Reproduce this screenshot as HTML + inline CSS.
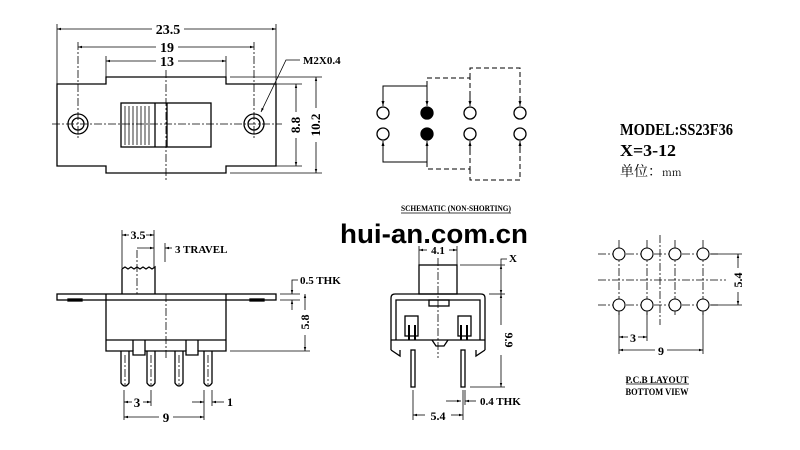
<!DOCTYPE html>
<html><head><meta charset="utf-8"><style>
html,body{margin:0;padding:0;background:#fff}
svg{display:block}
text{font-family:"Liberation Sans","Noto Sans CJK SC",sans-serif}
.d{font-family:"Liberation Serif","Noto Serif CJK SC",serif;font-weight:bold}
</style></head><body>
<svg width="800" height="450" viewBox="0 0 800 450" xmlns="http://www.w3.org/2000/svg">
<defs>
<marker id="a" viewBox="0 0 10 10" refX="10" refY="5" markerWidth="7" markerHeight="5" orient="auto-start-reverse"><path d="M0,2 L10,5 L0,8z" fill="#000"/></marker>
</defs>
<g fill="none" stroke="#000" stroke-width="1.3">
<!-- TOP VIEW -->
<path d="M57,84 H106 V77 H226 V84 H276 V166 H226 V173 H106 V166 H57 Z"/>
<circle cx="78" cy="124" r="10"/><circle cx="78" cy="124" r="6"/>
<circle cx="254" cy="124" r="10"/><circle cx="254" cy="124" r="6"/>
<rect x="121" y="103" width="90" height="44"/>
<line x1="155" y1="103" x2="155" y2="147"/>
<line x1="167" y1="103" x2="167" y2="147"/>
<g stroke-width="0.8"><line x1="125" y1="106" x2="125" y2="145"/><line x1="129" y1="106" x2="129" y2="145"/><line x1="133" y1="106" x2="133" y2="145"/><line x1="137" y1="106" x2="137" y2="145"/><line x1="141" y1="106" x2="141" y2="145"/><line x1="145" y1="106" x2="145" y2="145"/><line x1="149" y1="106" x2="149" y2="145"/></g>
<g stroke-width="0.8" stroke-dasharray="8,2,2,2">
<line x1="52" y1="124" x2="282" y2="124"/><line x1="166" y1="70" x2="166" y2="180"/>
<line x1="78" y1="42" x2="78" y2="138"/><line x1="254" y1="42" x2="254" y2="138"/>
</g>
<g stroke-width="0.8">
<line x1="57" y1="24" x2="57" y2="84"/><line x1="276" y1="24" x2="276" y2="84"/>
<line x1="106" y1="56" x2="106" y2="77"/><line x1="226" y1="56" x2="226" y2="77"/>
<line x1="57" y1="29" x2="152" y2="29" marker-start="url(#a)"/><line x1="184" y1="29" x2="276" y2="29" marker-end="url(#a)"/>
<line x1="78" y1="47" x2="156" y2="47" marker-start="url(#a)"/><line x1="178" y1="47" x2="254" y2="47" marker-end="url(#a)"/>
<line x1="106" y1="61" x2="156" y2="61" marker-start="url(#a)"/><line x1="178" y1="61" x2="226" y2="61" marker-end="url(#a)"/>
<polyline points="300,60 286,60 261,112" marker-end="url(#a)"/>
<line x1="230" y1="84" x2="302" y2="84"/><line x1="230" y1="166" x2="302" y2="166"/>
<line x1="230" y1="77" x2="322" y2="77"/><line x1="230" y1="173" x2="322" y2="173"/>
<line x1="296" y1="84" x2="296" y2="112" marker-start="url(#a)"/><line x1="296" y1="138" x2="296" y2="166" marker-end="url(#a)"/>
<line x1="316" y1="77" x2="316" y2="108" marker-start="url(#a)"/><line x1="316" y1="142" x2="316" y2="173" marker-end="url(#a)"/>
</g>
<!-- SCHEMATIC -->
<polyline points="383,106 383,86 427,86 427,106" stroke-width="1"/>
<polyline points="383,141 383,162 427,162 427,141" stroke-width="1"/>
<g stroke-width="1" stroke-dasharray="5,3">
<polyline points="427,86 427,78 470,78 470,106"/><polyline points="427,162 427,169 470,169 470,141"/>
<polyline points="470,78 470,68 520,68 520,106"/><polyline points="470,169 470,180 520,180 520,141"/>
</g>
<g stroke-width="1">
<line x1="383" y1="96" x2="383" y2="106" marker-end="url(#a)"/><line x1="427" y1="96" x2="427" y2="106" marker-end="url(#a)"/>
<line x1="470" y1="96" x2="470" y2="106" marker-end="url(#a)"/><line x1="520" y1="96" x2="520" y2="106" marker-end="url(#a)"/>
<line x1="383" y1="152" x2="383" y2="141" marker-end="url(#a)"/><line x1="427" y1="152" x2="427" y2="141" marker-end="url(#a)"/>
<line x1="470" y1="152" x2="470" y2="141" marker-end="url(#a)"/><line x1="520" y1="152" x2="520" y2="141" marker-end="url(#a)"/>
</g>
<circle cx="383" cy="113" r="6" fill="#fff"/><circle cx="427" cy="113" r="6" fill="#000"/><circle cx="470" cy="113" r="6" fill="#fff"/><circle cx="520" cy="113" r="6" fill="#fff"/>
<circle cx="383" cy="134" r="6" fill="#fff"/><circle cx="427" cy="134" r="6" fill="#000"/><circle cx="470" cy="134" r="6" fill="#fff"/><circle cx="520" cy="134" r="6" fill="#fff"/>
<line x1="401" y1="213" x2="511" y2="213" stroke-width="0.8"/>
<!-- SIDE VIEW -->
<rect x="57" y="294" width="219" height="6"/>
<rect x="68" y="299" width="14" height="2"/><rect x="250" y="299" width="14" height="2"/>
<path d="M106,294 V351 H133 V355 H145 V351 H186 V355 H198 V351 H226 V294"/>
<line x1="106" y1="340" x2="226" y2="340"/>
<line x1="133" y1="340" x2="133" y2="351"/><line x1="145" y1="340" x2="145" y2="351"/>
<line x1="186" y1="340" x2="186" y2="351"/><line x1="198" y1="340" x2="198" y2="351"/>
<path d="M122,294 V269 l3,-2 3,2 3,-2 3,2 3,-2 3,2 3,-2 3,2 3,-2 3,2 3,-2 V294"/>
<path d="M121,351 V383 q4,6 8,0 V351"/><path d="M147,351 V383 q4,6 8,0 V351"/>
<path d="M175,351 V383 q4,6 8,0 V351"/><path d="M204,351 V383 q4,6 8,0 V351"/>
<g stroke-width="0.8" stroke-dasharray="8,2,2,2">
<line x1="137" y1="250" x2="137" y2="294"/><line x1="166" y1="294" x2="166" y2="360"/>
<line x1="125" y1="355" x2="125" y2="385"/><line x1="151" y1="355" x2="151" y2="385"/><line x1="179" y1="355" x2="179" y2="385"/><line x1="208" y1="355" x2="208" y2="385"/>
</g>
<g stroke-width="0.8">
<line x1="122" y1="230" x2="122" y2="268"/><line x1="154" y1="230" x2="154" y2="268"/>
<line x1="122" y1="235" x2="129" y2="235" marker-start="url(#a)"/><line x1="146" y1="235" x2="154" y2="235" marker-end="url(#a)"/>
<line x1="137" y1="248" x2="154" y2="248" marker-end="url(#a)"/><line x1="165" y1="248" x2="172" y2="248" marker-start="url(#a)"/>
<line x1="165" y1="243" x2="165" y2="262"/>
<line x1="280" y1="294" x2="300" y2="294"/><line x1="280" y1="300" x2="300" y2="300"/>
<polyline points="298,280 292,280 292,294" marker-end="url(#a)"/><line x1="292" y1="310" x2="292" y2="300" marker-end="url(#a)"/>
<line x1="230" y1="351" x2="310" y2="351"/>
<line x1="305" y1="294" x2="305" y2="310" marker-start="url(#a)"/><line x1="305" y1="335" x2="305" y2="351" marker-end="url(#a)"/>
<line x1="124" y1="390" x2="124" y2="420"/><line x1="151" y1="390" x2="151" y2="406"/>
<line x1="204" y1="390" x2="204" y2="420"/><line x1="212" y1="390" x2="212" y2="406"/>
<line x1="124" y1="402" x2="132" y2="402" marker-start="url(#a)"/><line x1="143" y1="402" x2="151" y2="402" marker-end="url(#a)"/>
<line x1="192" y1="402" x2="204" y2="402" marker-end="url(#a)"/><line x1="224" y1="402" x2="212" y2="402" marker-end="url(#a)"/>
<line x1="124" y1="417" x2="159" y2="417" marker-start="url(#a)"/><line x1="173" y1="417" x2="204" y2="417" marker-end="url(#a)"/>
</g>
<!-- FRONT VIEW -->
<rect x="419" y="265" width="38" height="29"/>
<path d="M391,350 V298 q0,-4 4,-4 H481 q4,0 4,4 V350"/>
<path d="M396,340 V300 H480 V340"/>
<rect x="429" y="300" width="20" height="6"/>
<line x1="391" y1="340" x2="485" y2="340"/>
<path d="M391,350 L400,356 V350 M485,350 L476,356 V350"/>
<rect x="405" y="316" width="13" height="20"/><rect x="458" y="316" width="13" height="20"/>
<path d="M409,325 V340 M415,325 V340 M461,325 V340 M467,325 V340" stroke-width="2"/>
<path d="M432,340 l4,6 h8 l4,-6"/>
<rect x="411" y="350" width="4" height="37"/><rect x="461" y="350" width="4" height="37"/>
<g stroke-width="0.8" stroke-dasharray="8,2,2,2"><line x1="438" y1="258" x2="438" y2="358"/></g>
<g stroke-width="0.8">
<line x1="419" y1="246" x2="419" y2="265"/><line x1="457" y1="246" x2="457" y2="265"/>
<line x1="419" y1="250" x2="427" y2="250" marker-start="url(#a)"/><line x1="449" y1="250" x2="457" y2="250" marker-end="url(#a)"/>
<polyline points="507,259 501,259 501,265"/>
<line x1="460" y1="265" x2="505" y2="265"/><line x1="489" y1="294" x2="505" y2="294"/><line x1="470" y1="387" x2="505" y2="387"/>
<line x1="501" y1="265" x2="501" y2="294" marker-start="url(#a)" marker-end="url(#a)"/>
<line x1="501" y1="294" x2="501" y2="325" marker-start="url(#a)"/><line x1="501" y1="355" x2="501" y2="387" marker-end="url(#a)"/>
<line x1="413" y1="390" x2="413" y2="420"/><line x1="463" y1="390" x2="463" y2="420"/><line x1="465" y1="390" x2="465" y2="405"/>
<line x1="413" y1="415" x2="425" y2="415" marker-start="url(#a)"/><line x1="451" y1="415" x2="463" y2="415" marker-end="url(#a)"/>
<line x1="446" y1="401" x2="461" y2="401" marker-end="url(#a)"/><line x1="476" y1="401" x2="465" y2="401" marker-end="url(#a)"/>
</g>
<!-- PCB LAYOUT -->
<g stroke-width="0.8" stroke-dasharray="8,2,2,2">
<line x1="598" y1="254" x2="720" y2="254"/><line x1="598" y1="305" x2="720" y2="305"/>
<line x1="598" y1="280" x2="726" y2="280"/>
<line x1="619" y1="240" x2="619" y2="315"/><line x1="647" y1="240" x2="647" y2="315"/><line x1="675" y1="240" x2="675" y2="315"/><line x1="703" y1="240" x2="703" y2="315"/>
<line x1="660" y1="235" x2="660" y2="325"/>
</g>
<g stroke-width="1.1" fill="#fff">
<circle cx="619" cy="254" r="6"/><circle cx="647" cy="254" r="6"/><circle cx="675" cy="254" r="6"/><circle cx="703" cy="254" r="6"/>
<circle cx="619" cy="305" r="6"/><circle cx="647" cy="305" r="6"/><circle cx="675" cy="305" r="6"/><circle cx="703" cy="305" r="6"/>
</g>
<g stroke-width="0.8">
<line x1="711" y1="254" x2="742" y2="254"/><line x1="711" y1="305" x2="742" y2="305"/>
<line x1="738" y1="254" x2="738" y2="268" marker-start="url(#a)"/><line x1="738" y1="292" x2="738" y2="305" marker-end="url(#a)"/>
<line x1="619" y1="312" x2="619" y2="354"/><line x1="647" y1="312" x2="647" y2="341"/><line x1="703" y1="312" x2="703" y2="354"/>
<line x1="619" y1="337" x2="628" y2="337" marker-start="url(#a)"/><line x1="638" y1="337" x2="647" y2="337" marker-end="url(#a)"/>
<line x1="619" y1="350" x2="655" y2="350" marker-start="url(#a)"/><line x1="667" y1="350" x2="703" y2="350" marker-end="url(#a)"/>
<line x1="626" y1="384" x2="689" y2="384"/>
</g>
</g>
<g fill="#000" style="font-size:11px">
<text class="d" x="168" y="34" text-anchor="middle" style="font-size:14px">23.5</text>
<text class="d" x="167" y="52" text-anchor="middle" style="font-size:14px">19</text>
<text class="d" x="167" y="66" text-anchor="middle" style="font-size:14px">13</text>
<text class="d" x="303" y="64">M2X0.4</text>
<text class="d" transform="translate(300,125) rotate(-90)" text-anchor="middle" style="font-size:13px">8.8</text>
<text class="d" transform="translate(320,125) rotate(-90)" text-anchor="middle" style="font-size:13px">10.2</text>
<text class="d" x="138" y="239" text-anchor="middle" style="font-size:12px">3.5</text>
<text class="d" x="175" y="253">3 TRAVEL</text>
<text class="d" x="300" y="284">0.5 THK</text>
<text class="d" transform="translate(309,322) rotate(-90)" text-anchor="middle" style="font-size:12px">5.8</text>
<text class="d" x="137" y="407" text-anchor="middle" style="font-size:13px">3</text>
<text class="d" x="166" y="422" text-anchor="middle" style="font-size:13px">9</text>
<text class="d" x="227" y="406" style="font-size:12px">1</text>
<text class="d" x="438" y="254" text-anchor="middle">4.1</text>
<text class="d" x="509" y="262">X</text>
<text class="d" transform="translate(505,340) rotate(90)" text-anchor="middle" style="font-size:12px">9.9</text>
<text class="d" x="438" y="420" text-anchor="middle" style="font-size:12px">5.4</text>
<text class="d" x="480" y="405">0.4 THK</text>
<text class="d" transform="translate(742,280) rotate(-90)" text-anchor="middle" style="font-size:12px">5.4</text>
<text class="d" x="633" y="342" text-anchor="middle" style="font-size:12px">3</text>
<text class="d" x="661" y="355" text-anchor="middle" style="font-size:12px">9</text>
<text class="d" x="657" y="383" text-anchor="middle" style="font-size:9px" textLength="63" lengthAdjust="spacingAndGlyphs">P.C.B LAYOUT</text>
<text class="d" x="657" y="395" text-anchor="middle" style="font-size:9px" textLength="63" lengthAdjust="spacingAndGlyphs">BOTTOM VIEW</text>
<text class="d" x="401" y="211" style="font-size:8px" textLength="110" lengthAdjust="spacingAndGlyphs">SCHEMATIC (NON-SHORTING)</text>
<text class="d" x="620" y="135" style="font-size:17px" textLength="113" lengthAdjust="spacingAndGlyphs">MODEL:SS23F36</text>
<text class="d" x="620" y="156" style="font-size:17px" textLength="56" lengthAdjust="spacingAndGlyphs">X=3-12</text>
<text x="620" y="176" style="font-size:14px;font-family:'Noto Serif CJK SC',serif">单位：<tspan style="font-size:10px">mm</tspan></text>
</g>
<text x="340" y="243" style="font-size:27px;font-weight:bold" textLength="188" lengthAdjust="spacingAndGlyphs" fill="#000">hui-an.com.cn</text>
</svg>
</body></html>
